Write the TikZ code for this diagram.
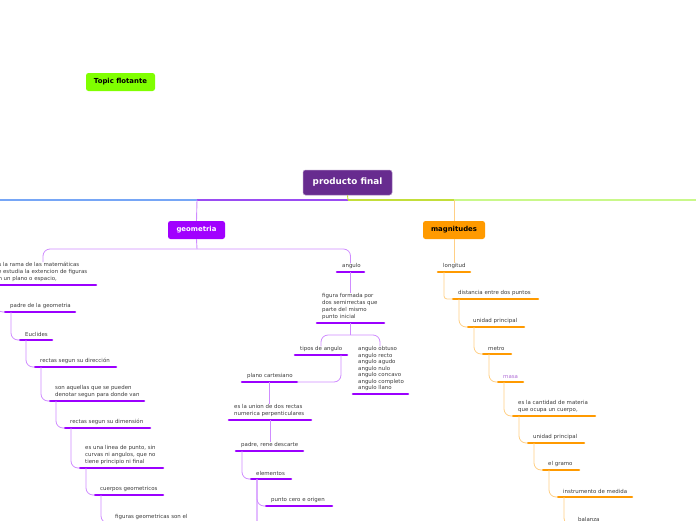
\documentclass[tikz,border=0pt]{standalone}
\usepackage{fontspec}
\setmainfont{DejaVu Sans}
\usetikzlibrary{calc}
\definecolor{pfc}{HTML}{672B8F}
\definecolor{geoc}{HTML}{A100FF}
\definecolor{magc}{HTML}{FF9A00}
\definecolor{tfc}{HTML}{80FF00}
\definecolor{ulp}{HTML}{9B00FF}
\definecolor{ulo}{HTML}{FF9A00}
\definecolor{cp}{HTML}{CF8CFF}
\definecolor{co}{HTML}{FFCF85}
\definecolor{lblue}{HTML}{76A6F6}
\definecolor{lpur}{HTML}{9A4CF2}
\definecolor{lyg}{HTML}{C3DE3A}
\definecolor{lgr}{HTML}{C9F88A}
\definecolor{txt}{HTML}{3A3A3A}
\definecolor{masac}{HTML}{B06ED6}
\newcommand\mmitem[6]{%
  \node[txtn] (#1) at ({#3+5},{#2-3}) {#6};
  \coordinate (#1a) at (#3,#2);
  \coordinate (#1b) at (#4,#2);
  \draw[#5] (#1a) -- (#1b);}
\newcommand\mmlink[3]{\draw[#1] ($(#2a)+(6,0)$) |- (#3a);}
\begin{document}
\begin{tikzpicture}[x=1pt,y=-1pt,
  txtn/.style={anchor=south west, inner sep=0pt, align=left, text=txt, font=\fontsize{5.45}{7}\selectfont},
  ulP/.style={line width=2.6pt, line cap=round, draw=ulp},
  ulO/.style={line width=2.6pt, line cap=round, draw=ulo},
  cP/.style={draw=cp, line width=0.8pt, rounded corners=7pt},
  cO/.style={draw=co, line width=0.8pt, rounded corners=7pt},
  topic/.style={rounded corners=2.5pt, inner sep=0pt, font=\bfseries\fontsize{6.9}{8}\selectfont, minimum height=18pt},
  mainln/.style={line width=1.8pt},
]
\useasboundingbox (0,0) rectangle (696,520);
\clip (0,0) rectangle (696,520);

% floating topic
\node[topic, fill=tfc, text=black, minimum width=69pt] (tf) at (120.5,82) {Topic flotante};

% central topic
\node[topic, fill=pfc, draw=pfc!55!white, line width=0.5pt, text=white, minimum width=89pt, minimum height=25pt, font=\bfseries\fontsize{8.8}{10}\selectfont] (pf) at (347.5,182.5) {producto final};

% main line
\coordinate (L) at (0,200);
\coordinate (R) at (696,200);
\coordinate (gj) at (197,200);
\coordinate (cj) at (348,200);
\coordinate (mj) at (454,200);
\draw[lblue, mainln] (L) -- (gj);
\draw[lpur, mainln] (gj) -- (cj);
\draw[lyg, mainln] (cj) -- (mj);
\draw[lgr, mainln] (mj) -- (R);
\draw[lyg, line width=0.9pt] (pf.south) -- (cj);

% main branches
\node[topic, fill=geoc, text=white, minimum width=57pt] (geo) at (196.5,230) {geometria};
\node[topic, fill=magc, text=black, minimum width=62pt] (mag) at (454,230) {magnitudes};
\draw[cp, line width=0.9pt] (gj) -- (geo.north);
\draw[co, line width=0.9pt] (mj) -- (mag.north);

% ---------- geometria: left chain ----------
\mmitem{gA}{285}{-10}{96}{ulP}{es la rama de las matemáticas\\se estudia la extencion de figuras\\en un plano o espacio,}
\mmitem{gB}{312}{5}{75}{ulP}{padre de la geometria}
\mmitem{gC}{340}{20}{52}{ulP}{Euclides}
\mmitem{gD}{367}{35}{116}{ulP}{rectas segun su dirección}
\mmitem{gE}{401}{50}{144}{ulP}{son aquellas que se pueden\\denotar segun para donde van}
\mmitem{gF}{428}{65}{150}{ulP}{rectas segun su dimensión}
\mmitem{gG}{468}{80}{163}{ulP}{es una linea de punto, sin\\curvas ni angulos, que no\\tiene principio ni final}
\mmitem{gH}{495}{95}{163}{ulP}{cuerpos geometricos}
\mmitem{gI}{523}{110}{200}{ulP}{figuras geometricas son el}
\mmlink{cP}{gA}{gB}
\mmlink{cP}{gB}{gC}
\mmlink{cP}{gC}{gD}
\mmlink{cP}{gD}{gE}
\mmlink{cP}{gE}{gF}
\mmlink{cP}{gF}{gG}
\mmlink{cP}{gG}{gH}
\mmlink{cP}{gH}{gI}

% ---------- geometria: angulo chain ----------
\mmitem{aA}{272}{337}{364}{ulP}{angulo}
\mmitem{aB}{323}{317}{384}{ulP}{figura formada por\\dos semirrectas que\\parte del mismo\\punto inicial}
\mmitem{aC}{355}{295}{347}{ulP}{tipos de angulo}
\node[txtn, font=\fontsize{5.45}{6.5}\selectfont] (aD) at (358,391) {angulo obtuso\\angulo recto\\angulo agudo\\angulo nulo\\angulo concavo\\angulo completo\\angulo llano};
\coordinate (aDa) at (353,394);
\coordinate (aDb) at (408,394);
\draw[ulP] (aDa) -- (aDb);
\mmitem{aE}{382}{242}{297}{ulP}{plano cartesiano}
\mmitem{aF}{420}{229}{311}{ulP}{es la union de dos rectas\\numerica perpenticulares}
\mmitem{aG}{451}{236}{303}{ulP}{padre, rene descarte}
\mmitem{aH}{479}{251}{291}{ulP}{elementos}
\mmitem{aI}{506}{266}{332}{ulP}{punto cero e origen}
\coordinate (aJa) at (266,533);
\coordinate (aKa) at (266,560);

% geometria T connector
\coordinate (gT) at (197,249);
\draw[cp, line width=0.9pt] (geo.south) -- (gT);
\draw[cP] (gA.north -| 43,0) -- (43,249) -- (350.5,249) -- (aA.north -| 350.5,0);

\coordinate (aAm) at ($(aA)!0.5!(aA)$);
\coordinate (aAc) at ($(aAa)!0.5!(aAb)$);
\draw[cP] (aAc) -- (aAc |- aB.north);
\coordinate (aBc) at ($(aBa)!0.5!(aBb)$);
\draw[cp, line width=0.8pt] (aBc) -- (350.5,335);
\draw[cP] (aC.north -| 321,0) -- (321,335) -- (380,335) -- (aD.north -| 380,0);
\draw[cP] ($(aCb)+(-6,0)$) |- (aEb);
\coordinate (aEc) at ($(aEa)!0.5!(aEb)$);
\draw[cP] (aEc) -- (aEc |- aF.north);
\coordinate (aFc) at ($(aFa)!0.5!(aFb)$);
\draw[cP] (aFc) -- (aFc |- aG.north);
\mmlink{cP}{aG}{aH}
\mmlink{cP}{aH}{aI}
\mmlink{cP}{aH}{aJ}
\mmlink{cP}{aH}{aK}

% ---------- magnitudes chain ----------
\mmitem{mA}{272}{438}{470}{ulO}{longitud}
\mmitem{mB}{299}{453}{538}{ulO}{distancia entre dos puntos}
\mmitem{mC}{327}{468}{524}{ulO}{unidad principal}
\mmitem{mD}{354}{483}{511}{ulO}{metro}
\mmitem{mE}{382}{498}{523}{ulO}{\textcolor{masac}{masa}}
\mmitem{mF}{416}{513}{595}{ulO}{es la cantidad de materia\\que ocupa un cuerpo,}
\mmitem{mG}{443}{528}{584}{ulO}{unidad principal}
\mmitem{mH}{470}{543}{579}{ulO}{el gramo}
\mmitem{mI}{497}{558}{632}{ulO}{instrumento de medida}
\mmitem{mJ}{525}{573}{610}{ulO}{balanza}
\draw[cO] (mag.south) -- (mag.south |- mA.north);
\draw[co, line width=0.8pt, rounded corners=3pt] ($(mAa)+(6,0)$) |- (mBa);
\mmlink{cO}{mB}{mC}
\mmlink{cO}{mC}{mD}
\mmlink{cO}{mD}{mE}
\mmlink{cO}{mE}{mF}
\mmlink{cO}{mF}{mG}
\mmlink{cO}{mG}{mH}
\mmlink{cO}{mH}{mI}
\mmlink{cO}{mI}{mJ}
\end{tikzpicture}
\end{document}
